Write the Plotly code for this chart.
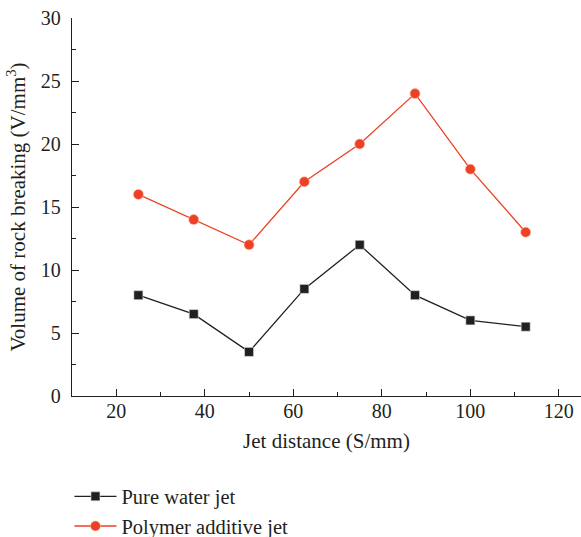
import plotly.graph_objects as go

jet_distance = [25, 37.5, 50, 62.5, 75, 87.5, 100, 112.5]
pure_water = [8, 6.5, 3.5, 8.5, 12, 8, 6, 5.5]
polymer = [16, 14, 12, 17, 20, 24, 18, 13]

x_ticks = [20, 40, 60, 80, 100, 120]
y_ticks = [0, 5, 10, 15, 20, 25, 30]

font_family = "Liberation Serif, Times New Roman, serif"
black = "#231f20"
red = "#ee4023"

fig = go.Figure()
fig.add_trace(go.Scatter(
    x=jet_distance, y=pure_water, mode="lines+markers", name="Pure water jet",
    line=dict(color=black, width=1.3),
    marker=dict(symbol="square", size=9, color=black, line=dict(color="#dddddd", width=0.6)),
))
fig.add_trace(go.Scatter(
    x=jet_distance, y=polymer, mode="lines+markers", name="Polymer additive jet",
    line=dict(color=red, width=1.3),
    marker=dict(symbol="circle", size=10, color=red, line=dict(color="#f6c0b0", width=0.6)),
))

axis_common = dict(
    showgrid=False, zeroline=False, showline=True, linecolor=black, linewidth=1.3,
    ticks="inside", ticklen=7, tickwidth=1.3, tickcolor=black, automargin=False,
    tickfont=dict(family=font_family, size=20, color=black),
)

fig.update_xaxes(
    range=[10, 125], tickvals=x_ticks, ticklabelstandoff=-3,
    title=dict(text="Jet distance (S/mm)", font=dict(family=font_family, size=21, color=black), standoff=12),
    minor=dict(ticks="inside", ticklen=4, dtick=10, tick0=0, tickcolor=black, tickwidth=1.2),
    **axis_common,
)
fig.update_yaxes(
    range=[0, 30], tickvals=y_ticks, ticklabelstandoff=6,
    title=dict(text="Volume of rock breaking (V/mm<sup>3</sup>)", font=dict(family=font_family, size=21, color=black), standoff=9),
    minor=dict(ticks="inside", ticklen=4, dtick=2.5, tick0=0, tickcolor=black, tickwidth=1.2),
    **axis_common,
)

fig.update_layout(
    width=581, height=537,
    margin=dict(l=72, r=0, t=18, b=141, autoexpand=False),
    paper_bgcolor="white", plot_bgcolor="white",
    font=dict(family=font_family, color=black),
    legend=dict(
        x=-0.005, y=-0.213, xanchor="left", yanchor="top",
        font=dict(family=font_family, size=20.5, color=black),
        itemwidth=42, tracegroupgap=0, bgcolor="rgba(0,0,0,0)",
    ),
    showlegend=True,
)

fig.write_html(
    "out.html",
    config={"displayModeBar": False},
    post_script="document.body.style.margin='0';document.body.style.padding='0';",
)
